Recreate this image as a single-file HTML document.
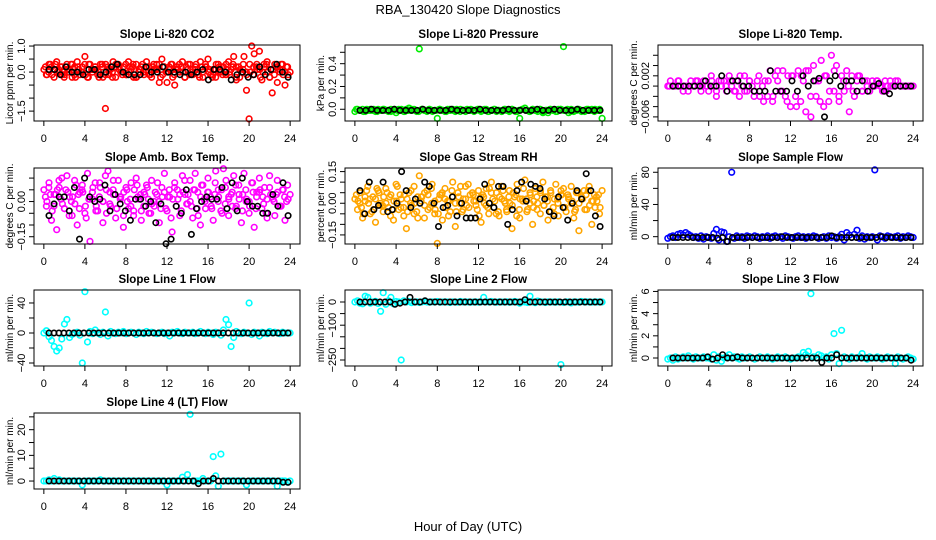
<!DOCTYPE html>
<html><head><meta charset="utf-8"><style>
html,body{margin:0;padding:0;background:#fff;}
svg{display:block;font-family:"Liberation Sans",Arial,sans-serif;}
</style></head><body>
<svg id="chart" width="936" height="540" viewBox="0 0 936 540">
<rect width="936" height="540" fill="#fff"/>
<text x="468" y="14" text-anchor="middle" font-size="13">RBA_130420  Slope Diagnostics</text>
<text x="468" y="531" text-anchor="middle" font-size="13">Hour of Day (UTC)</text>
</svg>
<script>
// ---- data ----
const xTicks = [0,4,8,12,16,20,24];
const co2Vals = [0.1,-0.1,0.3,0.2,-0.2,0.4,0.0,0.2,-0.1,0.3,0.1,-0.2,0.2,0.4,-0.1,0.0,0.6,-0.2,0.3,0.1,0.2,-0.1,0.3,-0.2,-1.4,0.2,0.1,0.4,-0.2,0.3,0.0,0.2,-0.1,0.4,0.1,-0.2,0.3,0.0,0.2,-0.1,0.4,0.2,-0.2,0.1,0.3,-0.4,0.5,0.2,-0.4,0.1,0.3,-0.5,0.2,0.0,0.4,-0.2,0.1,0.3,-0.1,0.2,0.0,0.4,-0.2,0.2,0.5,-0.1,0.1,-0.2,0.3,0.0,0.2,-0.1,0.4,0.1,0.6,-0.3,0.2,0.0,0.6,-0.7,-1.8,1.0,0.7,0.3,0.8,-0.3,0.2,0.4,-0.2,-0.8,0.3,-0.4,0.1,0.3,-0.5,0.2,0.0];
const co2Vals2 = [0.2,0.0,-0.1,0.3,0.1,-0.1,0.2,0.0,0.3,-0.2,0.1,0.2,-0.1,0.3,0.0,0.1,-0.2,0.2,0.3,-0.1,0.0,0.2,0.1,-0.1,0.3,0.0,0.2,-0.2,0.1,0.3,0.0,-0.1,0.2,0.1,0.3,-0.1,0.0,0.2,-0.2,0.1,0.3,0.0,0.2,-0.1,0.1,0.3,-0.2,0.0,0.2,0.1,-0.1,0.3,0.0,0.2,0.1,-0.1,0.3,0.2,-0.2,0.1,0.0,0.3,-0.1,0.2,0.1,0.0,0.3,-0.2,0.1,0.2,0.0,-0.1,0.2];
const co2Vals3 = [-0.1,0.3,0.1,0.0,0.2,-0.2,0.1,0.3,-0.1,0.2,0.0,0.3,-0.2,0.1,0.2,0.0,0.3,-0.1,0.1,-0.2,0.3,0.2,0.0,-0.1,0.2,0.3,-0.2,0.1,0.0,0.2,-0.1,0.3,0.1,-0.2,0.2,0.0,0.3,-0.1,0.1,0.2,-0.2,0.3,0.0,0.1,-0.1,0.2,0.3,0.0,-0.2,0.1,0.2,-0.1,0.3,0.0,0.2,-0.2,0.1,0.3,-0.1,0.0,0.2,0.1,-0.2,0.3,0.0,0.1,-0.1,0.2,0.3,0.0,-0.1];
const co2Black = [0.1,0.1,-0.1,0.2,0.0,0.0,-0.1,0.1,0.1,-0.1,0.0,0.2,0.3,0.0,-0.1,-0.1,-0.1,0.2,0.0,0.0,0.2,0.0,0.0,-0.1,0.0,-0.1,0.0,0.1,-0.3,0.1,0.1,0.0,-0.3,-0.1,0.0,-0.2,-0.1,0.2,-0.1,0.1,0.3,0.0,-0.2];
const presVals = [-0.02,0.0,-0.01,0.0,-0.02,-0.01,0.0,-0.01,-0.02,0.0,-0.01,0.0,-0.01,-0.02,0.0,-0.01,-0.03,0.0,-0.01,-0.02,0.0,0.01,-0.01,0.0,-0.02,0.53,0.0,-0.01,-0.02,0.0,-0.01,-0.01,-0.08,0.0,-0.01,-0.02,0.0,-0.01,0.0,-0.02,-0.01,0.0,-0.01,-0.02,-0.01,0.0,-0.01,-0.01,0.0,-0.02,-0.01,0.0,-0.02,-0.01,0.0,-0.02,-0.01,-0.02,0.0,-0.01,-0.02,0.0,-0.01,-0.02,-0.08,0.0,0.01,-0.01,-0.02,0.0,-0.01,-0.02,0.0,-0.03,-0.01,-0.03,0.0,-0.01,-0.02,0.0,0.0,0.55,-0.01,-0.03,0.0,-0.02,-0.01,0.0,-0.02,-0.01,0.0,-0.01,0.0,-0.02,-0.01,0.0,-0.08];
const presVals2 = [0.0,-0.01,-0.02,0.0,-0.01,0.0,-0.02,-0.01,0.0,-0.01,-0.02,0.0,-0.01,0.0,-0.02,-0.01,0.0,-0.01,-0.02,0.0,-0.01,0.0,-0.02,-0.01,0.0,-0.01,-0.02,0.0,-0.01,0.0,-0.02,-0.01,0.0,-0.01,-0.02,0.0,-0.01,0.0,-0.02,-0.01,0.0,-0.01,-0.02,0.0,-0.01,0.0,-0.02,-0.01,0.0,-0.01,-0.02,0.0,-0.01,0.0,-0.02,-0.01,0.0,-0.01,-0.02,0.0,-0.01,0.0,-0.02,-0.01,0.0,-0.01,-0.02,0.0,-0.01,0.0,-0.01];
const presBlack = [-0.01,-0.01,0.0,-0.01,-0.01,-0.01,0.0,-0.01,-0.01,-0.01,-0.01,0.0,-0.01,-0.01,-0.01,-0.01,0.0,-0.01,-0.01,-0.01,-0.01,0.0,-0.01,-0.01,-0.01,-0.01,0.0,-0.01,-0.01,-0.01,-0.01,0.0,-0.01,-0.01,0.0,-0.01,-0.01,-0.01,0.0,-0.01,-0.01,-0.01,-0.01];
const tempVals = [0,0.001,0,0,0.001,0,-0.001,0,0,0.001,0,0.001,0,-0.001,0.001,0,-0.001,0.002,0,-0.002,0.001,0,0.001,-0.001,0.002,0,-0.001,0.001,-0.002,0,0.002,-0.001,0.001,0,-0.001,0.001,-0.002,0,0.001,-0.002,0.003,-0.003,0.002,0.001,-0.001,0.003,-0.002,0.002,-0.004,0.002,-0.002,0.003,-0.003,0.001,-0.005,0.003,-0.006,0.004,-0.002,0.001,0.005,-0.004,0.002,-0.003,0.006,-0.001,0.004,-0.003,0.002,-0.001,0.003,-0.005,0.002,-0.002,0.001,0.002,-0.001,0.001,0,-0.001,0.001,0,0.001,0,-0.001,0.001,0,0.001,0,0,0.001,0,0,0,0,0,0];
const tempVals2 = [0,0,0.001,0,-0.001,0,0.001,0,0,0.001,-0.001,0.001,0,0.001,-0.001,0.002,-0.001,0.001,-0.002,0.002,-0.003,0.001,-0.002,0.003,-0.001,-0.003,0.002,-0.004,0.002,0.003,-0.002,0.001,-0.003,0.002,-0.001,0.003,-0.002,0.001,0,-0.001,0.002,-0.001,0.001,0,0.001,0,-0.001,0,0.001,0,0,0];
const tempBlack = [0,0,0,0,0,0,0.001,0,0,0.002,-0.001,0.001,0.001,0,0,-0.001,-0.001,-0.001,0.003,-0.001,-0.001,-0.001,0.001,-0.001,0.002,0,0.001,0.0015,-0.006,0.001,0.002,0,0.001,0.001,-0.001,0.001,-0.001,0,0.0005,-0.001,-0.0015,0,0,0,0];
const ambVals = [0.05,-0.02,0.08,-0.08,0.03,-0.12,0.06,0.10,-0.03,0.11,0.02,-0.06,0.09,-0.10,0.04,0.07,-0.05,0.12,-0.17,0.01,0.08,-0.04,0.06,-0.09,0.11,0.13,-0.02,0.05,-0.07,0.09,0.02,-0.11,0.06,-0.03,0.08,-0.06,0.10,0.01,-0.08,0.04,0.07,-0.05,0.09,-0.02,0.03,-0.09,0.06,0.12,-0.04,0.02,-0.13,0.08,0.05,-0.06,0.11,0.03,-0.01,0.09,-0.07,0.12,0.04,-0.10,0.07,-0.03,0.10,0.02,-0.08,0.13,0.05,-0.04,0.14,0.09,-0.06,0.03,0.11,-0.02,0.07,-0.09,0.12,0.01,-0.05,0.08,-0.11,0.04,0.10,-0.03,0.06,-0.07,0.11,0.02,-0.06,0.09,-0.02,0.05,-0.08,0.07,0.03];
const ambVals2 = [0.02,0.06,-0.04,0.03,0.09,-0.01,0.05,-0.06,0.02,0.07,-0.03,0.04,-0.07,0.01,0.06,-0.02,0.08,0.00,-0.05,0.04,0.09,-0.03,0.02,-0.06,0.05,0.01,-0.04,0.07,0.03,-0.02,0.06,-0.05,0.00,0.08,-0.03,0.04,0.02,-0.07,0.06,0.01,-0.04,0.09,0.03,-0.02,0.05,-0.06,0.07,0.00,0.04,-0.03,0.08,0.02,-0.05,0.06,0.01,-0.02,0.07,0.03,-0.04,0.05,0.00,0.08,-0.03,0.04,0.02,-0.05,0.06,0.01,0.03,-0.02,0.05,0.00];
const ambVals3 = [0.00,0.03,-0.02,0.05,0.01,-0.03,0.04,0.00,-0.01,0.03,0.05,-0.02,0.01,0.04,-0.04,0.02,0.00,0.05,-0.01,0.03,-0.03,0.01,0.04,0.00,-0.02,0.05,0.02,-0.04,0.03,0.01,-0.01,0.04,0.00,0.02,-0.03,0.05,0.01,-0.02,0.03,0.04,-0.01,0.00,0.05,-0.03,0.02,0.01,0.04,-0.02,0.03,0.00,0.05,-0.01,0.02,0.04,-0.03,0.01,0.03,0.00,-0.02,0.04,0.02,0.05,-0.01,0.01,0.03,0.00,0.04,-0.02,0.02,0.01];
const ambBlack = [-0.06,-0.01,0.02,0.02,-0.04,0.06,-0.16,0.10,0.02,0.00,0.01,0.07,-0.04,0.03,-0.01,-0.04,-0.08,0.01,0.01,-0.02,0.00,-0.09,-0.01,-0.18,-0.16,-0.02,-0.05,0.05,-0.14,-0.03,0.00,0.02,0.01,0.01,0.06,-0.03,0.08,-0.04,0.10,0.00,-0.02,-0.02,-0.05,-0.05,0.03,-0.02,0.08,-0.06];
const rhVals = [0.02,-0.03,0.05,-0.07,0.01,0.08,-0.05,0.03,-0.09,0.06,0.00,-0.04,0.07,-0.02,0.04,-0.08,0.09,-0.03,0.02,-0.06,-0.12,0.05,-0.01,0.08,-0.04,0.13,0.03,-0.07,0.06,-0.02,0.09,-0.05,-0.19,0.04,-0.08,0.07,0.01,-0.04,0.10,-0.11,0.05,0.08,-0.03,0.02,0.09,-0.07,0.04,-0.01,0.06,-0.09,0.03,0.07,-0.05,0.10,-0.02,0.05,-0.06,0.08,0.01,-0.04,0.06,-0.12,0.03,0.09,-0.07,0.02,0.11,-0.03,0.05,-0.10,0.07,0.00,-0.05,0.10,0.03,-0.08,0.06,-0.02,0.09,-0.06,0.04,0.07,-0.04,0.02,0.08,-0.07,0.05,-0.13,0.03,0.06,-0.03,0.08,-0.10,0.04,0.01,-0.05,0.06];
const rhVals2 = [0.04,0.00,-0.05,0.06,0.02,-0.03,0.07,-0.01,0.03,0.05,-0.06,0.01,0.08,-0.02,0.04,-0.04,0.06,0.00,-0.07,0.03,0.05,-0.03,0.07,0.01,-0.05,0.04,0.02,-0.06,0.06,0.00,0.03,-0.04,0.08,-0.02,0.05,0.01,-0.06,0.04,-0.01,0.07,0.02,-0.05,0.03,0.06,-0.03,0.00,0.05,-0.06,0.02,0.07,-0.04,0.04,0.01,-0.03,0.06,-0.01,0.03,0.05,-0.05,0.02,0.06,-0.02,0.04,0.00,-0.04,0.05,0.02,-0.03,0.06,0.01,-0.02,0.04];
const rhVals3 = [0.01,-0.02,0.03,0.00,-0.04,0.02,0.05,-0.01,0.00,0.03,-0.03,0.01,0.04,-0.02,0.02,0.00,-0.05,0.03,0.01,-0.01,0.04,0.00,-0.03,0.02,0.05,-0.02,0.01,0.03,-0.04,0.00,0.02,-0.01,0.04,0.01,-0.03,0.03,0.00,-0.02,0.05,0.01,-0.04,0.02,0.00,0.03,-0.01,0.04,-0.03,0.01,0.02,0.00,-0.02,0.03,0.05,-0.01,0.01,-0.04,0.02,0.00,0.04,-0.02,0.03,0.01,-0.03,0.00,0.02,0.04,-0.01,0.01,0.03,-0.02];
const rhBlack = [0.06,-0.05,0.10,-0.03,-0.01,0.10,-0.04,-0.03,0.00,0.15,0.06,-0.02,0.02,0.00,0.10,0.08,0.00,-0.11,-0.02,-0.01,0.03,-0.06,0.00,-0.07,-0.07,-0.07,0.02,0.09,0.00,-0.02,0.08,0.08,-0.10,-0.03,0.06,0.10,0.01,0.09,0.08,0.07,0.02,-0.04,-0.06,0.03,-0.02,-0.08,0.00,0.06,0.02,0.14,0.06,-0.06,-0.11];
const sfVals = [-2,0,1,-1,3,4,2,5,3,1,-1,0,-2,1,-3,0,-1,-2,4,9,-4,6,5,-6,0,80,-2,1,-1,0,-2,1,0,-1,1,0,-2,0,-1,1,-2,0,1,-1,0,-2,1,0,-1,-2,0,1,-1,0,-2,0,-1,1,0,-2,-1,0,-2,1,-1,0,-2,0,3,-4,5,2,-1,3,8,-2,1,-3,0,-1,0,83,-4,1,0,-2,1,0,-1,0,1,-2,0,-1,1,0,-1];
const sfBlack = [-1,-1,-1,-1,-1,-1,-1,-1,-1,-2,-1,-6,-1,-1,-1,-1,-1,-1,-1,-1,-1,-1,0,-1,-1,-1,-1,-1,-1,-1,-1,-1,1,-1,-1,-1,-1,-1,-1,-1,-1,-1,0,-1,-1,-1,-1,-1,-1];
const l1Vals = [0,3,-5,-10,-18,-24,-20,-8,12,18,-6,-2,0,1,-3,-40,55,-12,2,-1,4,0,-2,1,28,-4,2,0,-1,1,0,2,-1,0,1,0,-2,1,0,-1,2,0,1,0,-1,0,1,-1,0,-4,1,0,2,0,-1,1,0,0,1,-1,0,2,0,-1,1,0,-2,1,0,-3,4,18,11,-18,-6,2,0,-1,1,0,40,-2,1,0,-4,1,0,-1,2,0,1,0,-1,1,0,0,0];
const l1Black = [0,0,0,0,0,0,0,0,0,0,0,0,0,0,0,0,0,0,0,0,0,0,0,0,0,0,0,0,0,0,0,0,0,0,0,0,0,0,0,0,0,0,0,0,0,0,0,0,0];
const l2Vals = [0,5,-5,-8,25,20,-5,0,3,-6,-40,40,-10,5,20,-8,2,0,-250,5,0,2,-3,0,1,-2,0,2,0,-1,1,0,2,-1,0,1,0,-2,1,0,-1,2,0,1,0,-1,0,1,-1,0,20,1,0,2,0,-1,1,0,0,1,-1,0,2,0,-5,1,0,-2,25,0,-3,4,1,0,-2,1,0,0,-1,1,-270,-2,1,0,-4,1,0,-1,2,0,1,0,-1,1,0,0,0];
const l2Black = [0,0,0,0,0,0,0,-10,-5,0,20,0,0,5,0,0,0,0,0,0,0,0,0,0,0,0,0,0,0,0,0,0,0,10,0,0,0,0,0,0,0,0,0,0,0,0,0,0,0];
const l3Vals = [-0.1,0.0,-0.2,0.1,-0.1,0.0,0.1,0.0,0.2,0.0,-0.1,0.1,0.0,0.0,0.1,0.0,0.0,-0.1,0.3,-0.2,0.1,-0.3,0.0,0.1,0.3,0.0,0.1,0.0,-0.1,0.1,0.0,0.0,0.1,0.0,-0.1,0.0,0.1,0.0,0.0,0.1,0.0,-0.1,0.0,0.1,0.0,0.0,0.1,0.0,-0.1,0.0,0.0,0.1,0.0,0.5,0.3,0.6,5.8,0.1,0.0,0.3,0.2,0.0,0.1,-0.1,0.3,2.2,0.4,-0.5,2.5,0.1,0.0,-0.1,0.1,0.0,0.0,0.1,0.4,0.0,-0.1,0.1,0.0,0.0,0.1,0.0,-0.1,0.0,0.1,0.0,0.0,-0.5,0.1,0.0,-0.1,0.0,0.1,0.0,-0.1];
const l3Black = [0,0,0,0,0,0,0,0.1,-0.1,0,0.3,0,0,0.1,0,0,0,0,0,0,0,0,0,0,0,0,0,0,0,0,-0.4,0,0,0.3,0,0,0,0,0,0,0,0,0,0,0,0,0,0,-0.2];
const l4Vals = [0,0,0.5,0,1,0,0.5,0,0,0,0,0,0,0,0,-1.5,0,0,0,0,0,0,0.5,0,0,0,0,0,0,0,0,0,0,0,0,0,0,0,0,0,0,0,0,0,0,0,0,0,-1.5,0,0,0,0,0,1.5,0,2.5,26,0,0,0,0,1,0,0,0,9.5,2,-2,10.5,0,0,0,0,0,0,0,0,0,-1.5,0,0,0,0,0,0,0,0,0,0,0,-2,0,0,0,-0.5,0];
const l4Black = [0,0,0,0,0,0,0,0,0,0,0,0,0,0,0,0,0,0,0,0,0,0,0,0,0,0,0,0,0,0,-1,0,0,1,0,0,0,0,0,0,0,0,0,0,0,0,0,-0.5,-0.5];

// ---- layout ----
const svg = document.getElementById('chart');
const NS = 'http://www.w3.org/2000/svg';
const cols = [{l:34,r:300},{l:345,r:612},{l:658,r:923}];
const rows = [{t:45,b:121},{t:168,b:244},{t:290,b:366},{t:413,b:489}];
const panels = [
 {key:'co2',title:'Slope Li-820 CO2',ylab:'Licor ppm per min.',c:0,r:0,lo:-1.88,hi:1.04,ticks:[-1.5,-1,-0.5,0,0.5,1],labs:{'-1.5':'\u22121.5','0':'0.0','1':'1.0'},color:'#ff0000',series:[co2Vals,co2Vals2,co2Vals3],black:co2Black},
 {key:'pressure',title:'Slope Li-820 Pressure',ylab:'kPa per min.',c:1,r:0,lo:-0.103,hi:0.564,ticks:[0,0.1,0.2,0.3,0.4,0.5],labs:{'0':'0.0','0.2':'0.2','0.4':'0.4'},color:'#00ee00',series:[presVals,presVals2],black:presBlack},
 {key:'li-temp',title:'Slope Li-820 Temp.',ylab:'degrees C per min.',c:2,r:0,lo:-0.0068,hi:0.008,ticks:[-0.006,-0.004,-0.002,0,0.002,0.004,0.006],labs:{'-0.006':'\u22120.006','0.002':'0.002'},color:'#ff00ff',series:[tempVals,tempVals2],black:tempBlack},
 {key:'amb-temp',title:'Slope Amb. Box Temp.',ylab:'degrees C per min.',c:0,r:1,lo:-0.181,hi:0.143,ticks:[-0.15,-0.1,-0.05,0,0.05,0.1],labs:{'-0.15':'\u22120.15','0':'0.00'},color:'#ff00ff',series:[ambVals,ambVals2,ambVals3],black:ambBlack},
 {key:'gas-rh',title:'Slope Gas Stream RH',ylab:'percent per min.',c:1,r:1,lo:-0.193,hi:0.167,ticks:[-0.15,-0.1,-0.05,0,0.05,0.1,0.15],labs:{'-0.15':'\u22120.15','0':'0.00','0.15':'0.15'},color:'#ffa500',series:[rhVals,rhVals2,rhVals3],black:rhBlack},
 {key:'sample-flow',title:'Slope Sample Flow',ylab:'ml/min per min.',c:2,r:1,lo:-9.1,hi:85.3,ticks:[0,20,40,60,80],labs:{'0':'0','40':'40','80':'80'},color:'#0000ff',series:[sfVals],black:sfBlack},
 {key:'line1-flow',title:'Slope Line 1 Flow',ylab:'ml/min per min.',c:0,r:2,lo:-44,hi:57.3,ticks:[-40,-20,0,20,40],labs:{'-40':'\u221240','0':'0','40':'40'},color:'#00ffff',series:[l1Vals],black:l1Black},
 {key:'line2-flow',title:'Slope Line 2 Flow',ylab:'ml/min per min.',c:1,r:2,lo:-275.9,hi:51.7,ticks:[-250,-200,-150,-100,-50,0],labs:{'-250':'\u2212250','-100':'\u2212100','0':'0'},color:'#00ffff',series:[l2Vals],black:l2Black},
 {key:'line3-flow',title:'Slope Line 3 Flow',ylab:'ml/min per min.',c:2,r:2,lo:-0.72,hi:6.13,ticks:[0,1,2,3,4,5,6],labs:{'0':'0','2':'2','4':'4','6':'6'},color:'#00ffff',series:[l3Vals],black:l3Black},
 {key:'line4-flow',title:'Slope Line 4 (LT) Flow',ylab:'ml/min per min.',c:0,r:3,lo:-3.1,hi:26.5,ticks:[0,5,10,15,20,25],labs:{'0':'0','10':'10','20':'20'},color:'#00ffff',series:[l4Vals],black:l4Black}
];

function mk(tag, attrs, parent){
  const e = document.createElementNS(NS, tag);
  for (const k in attrs) e.setAttribute(k, attrs[k]);
  parent.appendChild(e);
  return e;
}

panels.forEach(p => {
  const C = cols[p.c], R = rows[p.r];
  const xs = h => C.l + (h + 0.96) / 25.92 * (C.r - C.l);
  const ys = v => R.b - (v - p.lo) / (p.hi - p.lo) * (R.b - R.t);
  const g = mk('g', {}, svg);
  
  

  const ttl = mk('text', {x:(C.l+C.r)/2, y:R.t-7, 'text-anchor':'middle', 'font-size':'11.5', 'font-weight':'bold'}, g);
  ttl.textContent = p.title;
  
  

  const pts = mk('g', {fill:'none', 'stroke-width':'1.6'}, g);
  
  
  p.series.forEach((arr, si) => {
    const n = arr.length;
    arr.forEach((v, i) => {
      const h = si === 0 ? i * 24 / (n - 1) : (si === 1 ? 0.15 : 0.3) + i * 23.5 / (n - 1);
      const c = mk('circle', {cx:xs(h).toFixed(1), cy:ys(v).toFixed(1), r:'2.8', stroke:p.color}, pts);
      
      
    });
  });
  const nb = p.black.length;
  p.black.forEach((v, i) => {
    const h = 0.5 + i * 23.3 / (nb - 1);
    const c = mk('circle', {cx:xs(h).toFixed(1), cy:ys(v).toFixed(1), r:'2.7', stroke:'#000'}, pts);
    
    
  });

  const box = mk('rect', {x:C.l, y:R.t, width:C.r-C.l, height:R.b-R.t, fill:'none', stroke:'#000', 'stroke-width':'1'}, g);
  
  

  const xa = mk('g', {}, g);
  
  
  mk('line', {x1:xs(xTicks[0]), x2:xs(xTicks[xTicks.length-1]), y1:R.b, y2:R.b, stroke:'#000'}, xa);
  xTicks.forEach(t => {
    mk('line', {x1:xs(t), x2:xs(t), y1:R.b, y2:R.b+5, stroke:'#000'}, xa);
    const lt = mk('text', {x:xs(t), y:R.b+21, 'text-anchor':'middle', 'font-size':'11'}, xa);
    lt.textContent = String(t);
    
    
  });

  const ya = mk('g', {}, g);
  
  
  mk('line', {x1:C.l, x2:C.l, y1:ys(p.ticks[0]), y2:ys(p.ticks[p.ticks.length-1]), stroke:'#000'}, ya);
  p.ticks.forEach(t => {
    mk('line', {x1:C.l-5, x2:C.l, y1:ys(t), y2:ys(t), stroke:'#000'}, ya);
    const key = String(t);
    if (p.labs[key] !== undefined) {
      const yy = ys(t), xx = C.l - 9;
      const lt = mk('text', {x:xx, y:yy, 'text-anchor':'middle', 'font-size':'11', transform:`rotate(-90 ${xx} ${yy})`}, ya);
      lt.textContent = p.labs[key];
      
      
    }
  });
  const yx = C.l - 21, yy = (R.t + R.b) / 2;
  const yl = mk('text', {x:yx, y:yy, 'text-anchor':'middle', 'font-size':'10', transform:`rotate(-90 ${yx} ${yy})`}, g);
  yl.textContent = p.ylab;
  
  
});
</script>
</body></html>
